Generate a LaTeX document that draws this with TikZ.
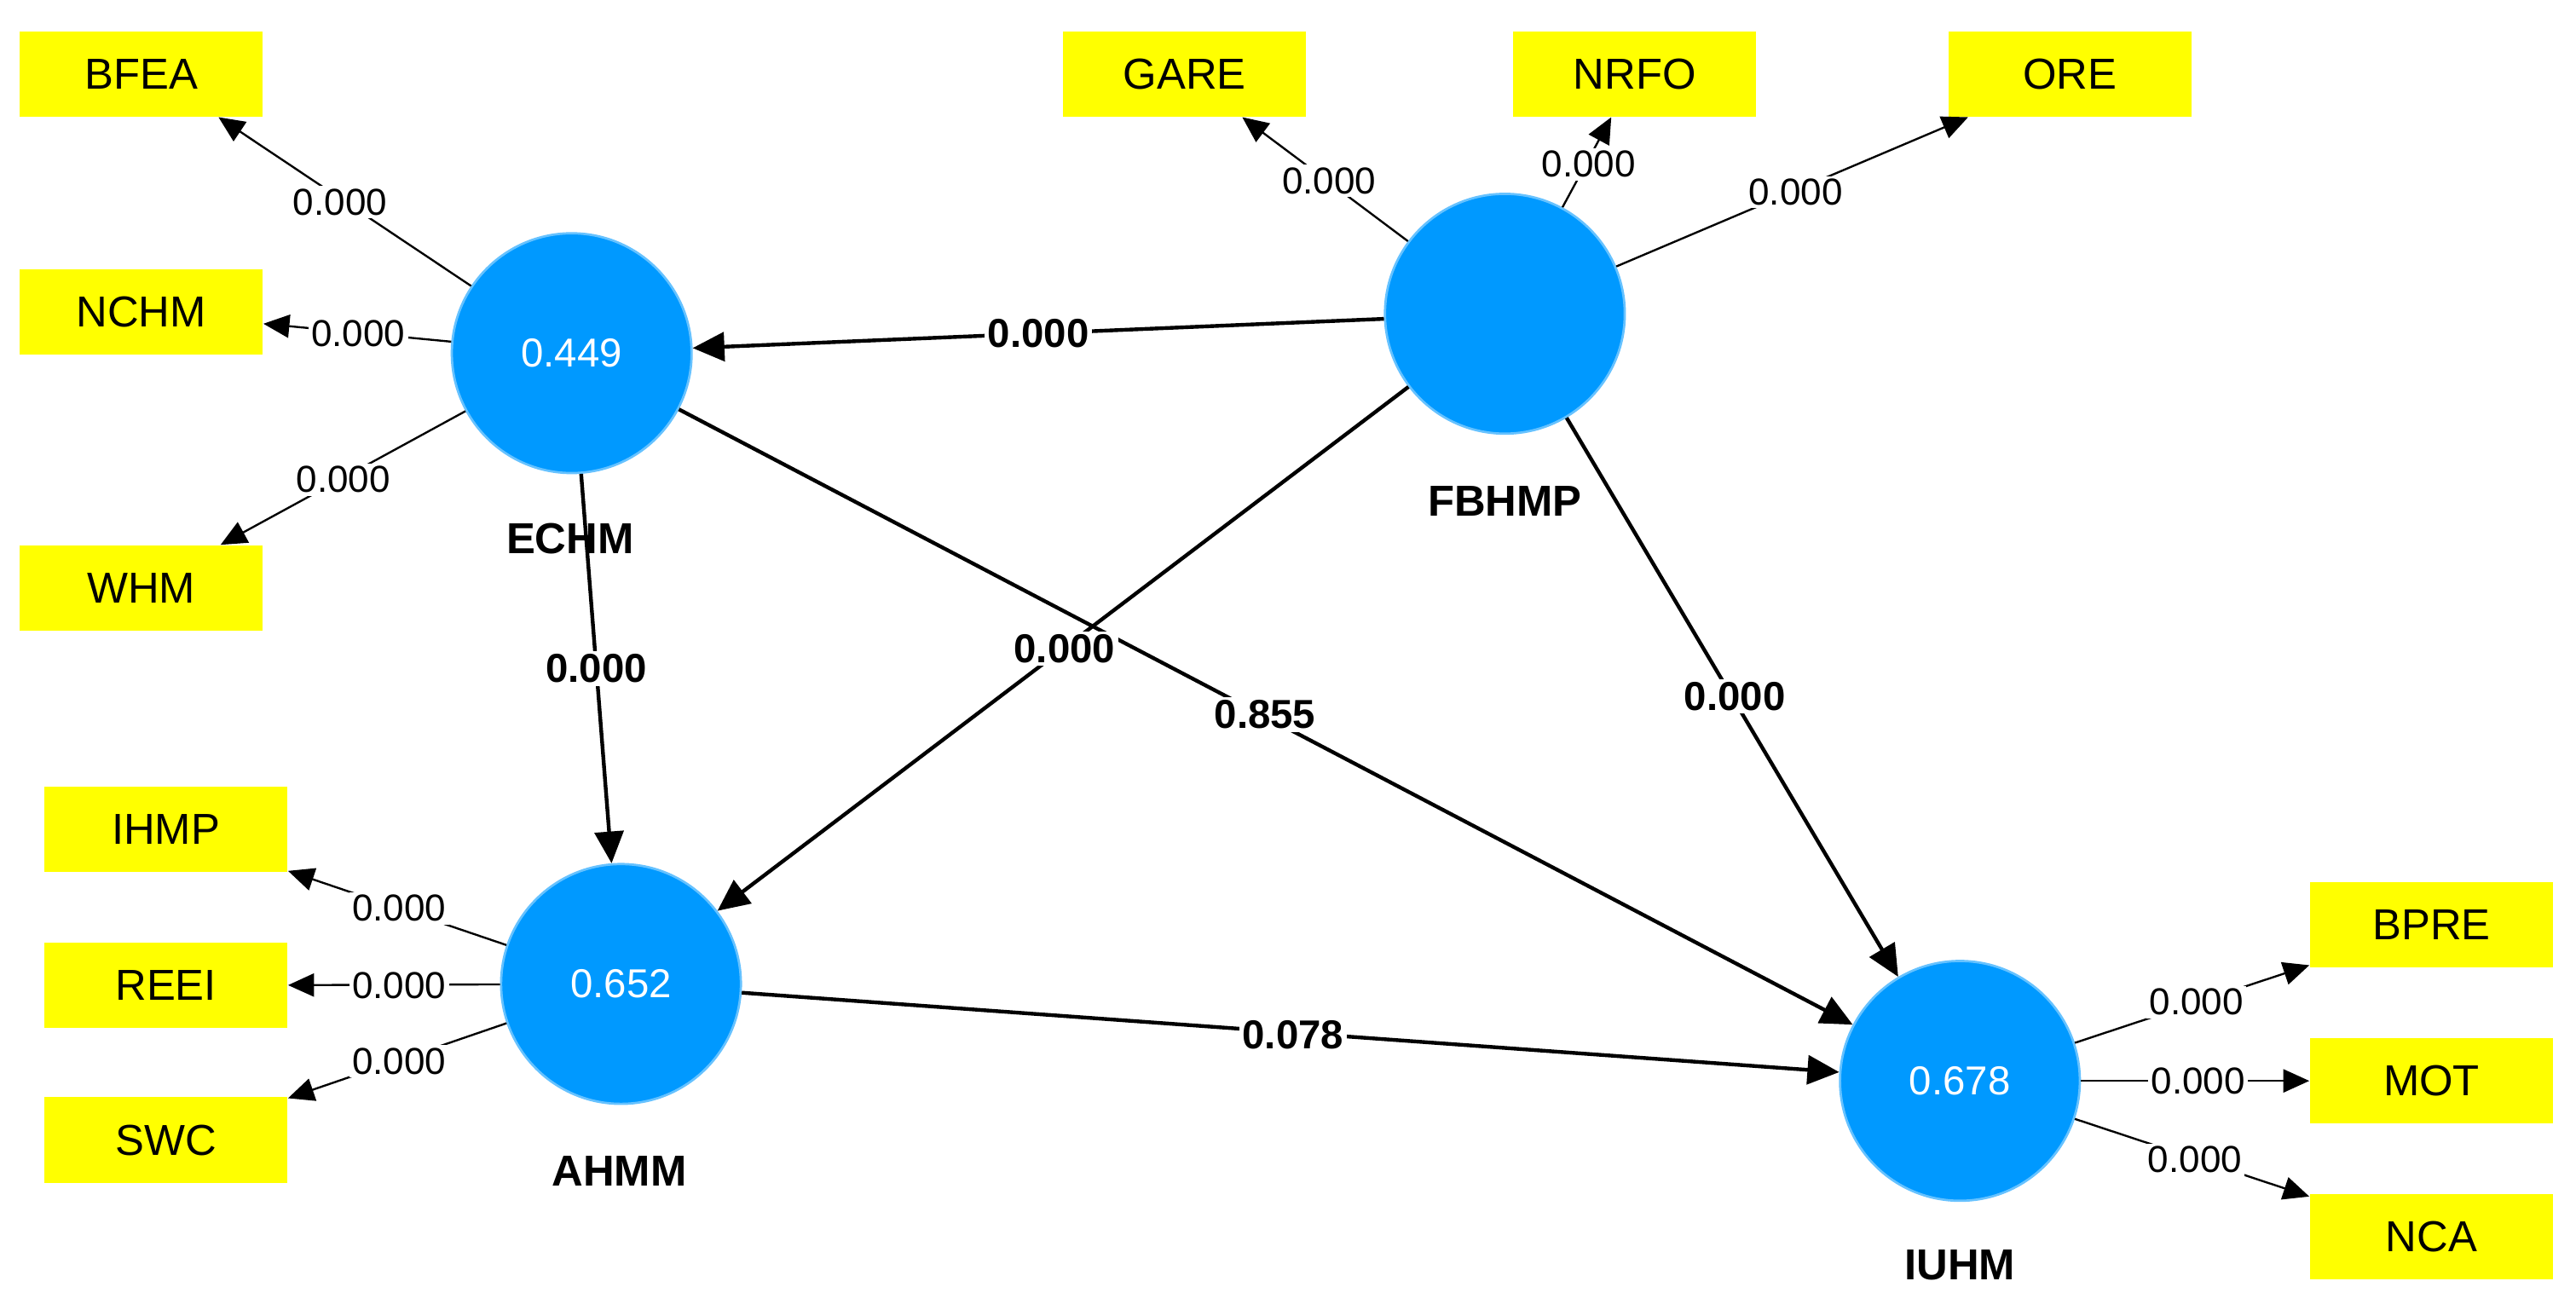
\documentclass[tikz,border=0pt]{standalone}
\usepackage{fontspec}
\setmainfont{Liberation Sans}
\usetikzlibrary{arrows.meta}
\definecolor{lv}{HTML}{0099FF}
\definecolor{ind}{HTML}{FFFF00}
\begin{document}
\begin{tikzpicture}[x=0.02cm,y=-0.02cm,
 lat/.style={circle,fill=lv,draw=lv!60!white,line width=0.8pt,minimum size=2.92cm,inner sep=0,text=white,font=\fontsize{14}{16}\selectfont},
 box/.style={rectangle,fill=ind,minimum width=2.96cm,minimum height=1.04cm,inner sep=0,font=\fontsize{15}{18}\selectfont},
 meas/.style={line width=0.7pt,-{Triangle[length=9pt,width=8pt]}},
 str/.style={line width=1.3pt,-{Triangle[length=11pt,width=10pt]}},
 ml/.style={fill=white,inner sep=1pt,font=\fontsize{13}{15}\selectfont},
 sl/.style={fill=white,inner sep=1pt,font=\bfseries\fontsize{14}{16}\selectfont},
 nm/.style={font=\bfseries\fontsize{15}{18}\selectfont}]
\useasboundingbox (0,0) rectangle (1568,797);
\node[lat] (E) at (348,215) {0.449};
\node[lat] (F) at (916,191) {};
\node[lat] (A) at (378,599) {0.652};
\node[lat] (I) at (1193,658) {0.678};
\node[nm] (En) at (347,328) {ECHM};
\node[nm] (Fn) at (916,305) {FBHMP};
\node[nm] (An) at (377,713) {AHMM};
\node[nm] (In) at (1193,770) {IUHM};
\node[box] (BFEA) at (86,45) {BFEA};
\node[box] (NCHM) at (86,190) {NCHM};
\node[box] (WHM) at (86,358) {WHM};
\node[box] (GARE) at (721,45) {GARE};
\node[box] (NRFO) at (995,45) {NRFO};
\node[box] (ORE) at (1260,45) {ORE};
\node[box] (IHMP) at (101,505) {IHMP};
\node[box] (REEI) at (101,600) {REEI};
\node[box] (SWC) at (101,694) {SWC};
\node[box] (BPRE) at (1480,563) {BPRE};
\node[box] (MOT) at (1480,658) {MOT};
\node[box] (NCA) at (1480,753) {NCA};
% measurement arrows
\draw[meas] (E) -- (BFEA.south east -| 133,0);
\draw[meas] (E) -- (NCHM);
\draw[meas] (E) -- (WHM);
\draw[meas] (F) -- (GARE);
\draw[meas] (F) -- (NRFO);
\draw[meas] (F) -- (ORE);
\draw[meas] (A) -- (IHMP);
\draw[meas] (A) -- (REEI);
\draw[meas] (A) -- (SWC);
\draw[meas] (I) -- (BPRE);
\draw[meas] (I) -- (MOT);
\draw[meas] (I) -- (NCA);
% structural
\draw[str] (F) -- (E);
\draw[str] (E) -- (A);
\draw[str] (F) -- (A);
\draw[str] (E) -- (I);
\draw[str] (F) -- (I);
\draw[str] (A) -- (I);
% labels
\node[ml] at (207,123) {0.000};
\node[ml] at (218,203) {0.000};
\node[ml] at (209,292) {0.000};
\node[ml] at (809,110) {0.000};
\node[ml] at (967,100) {0.000};
\node[ml] at (1093,117) {0.000};
\node[ml] at (243,553) {0.000};
\node[ml] at (243,600) {0.000};
\node[ml] at (243,646) {0.000};
\node[ml] at (1337,610) {0.000};
\node[ml] at (1338,658) {0.000};
\node[ml] at (1336,706) {0.000};
\node[sl] at (632,203) {0.000};
\node[sl] at (363,407) {0.000};
\node[sl] at (648,395) {0.000};
\node[sl] at (770,435) {0.855};
\node[sl] at (1056,424) {0.000};
\node[sl] at (787,630) {0.078};
\end{tikzpicture}
\end{document}
